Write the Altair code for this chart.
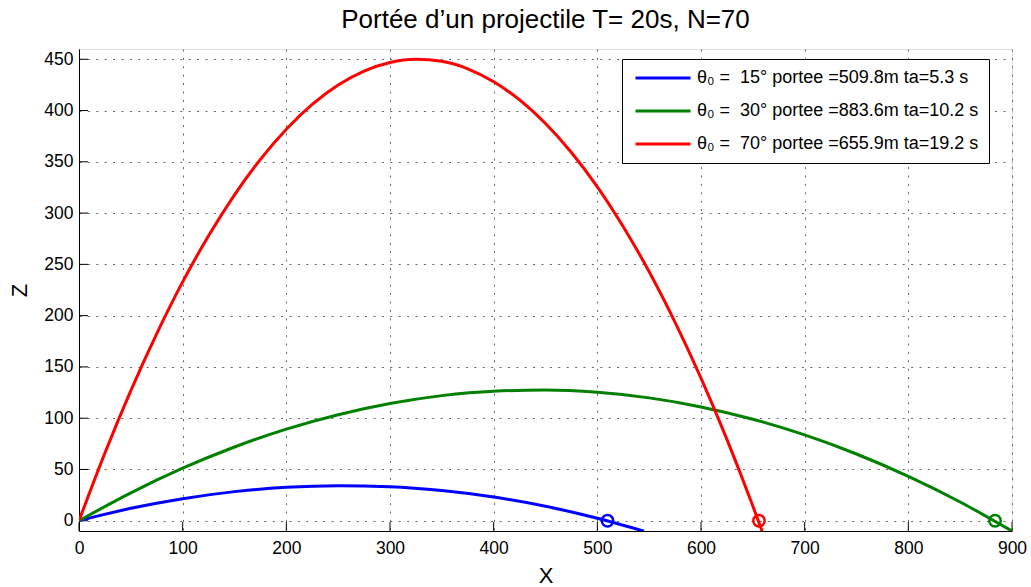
import altair as alt
import pandas as pd

# ---- data ----
labels = [
    "θ₀ =\u00a0\u00a015° portee =509.8m ta=5.3 s",
    "θ₀ =\u00a0\u00a030° portee =883.6m ta=10.2 s",
    "θ₀ =\u00a0\u00a070° portee =655.9m ta=19.2 s",
]
colors = ["#0000ff", "#008000", "#ff0000"]

blue_x = [0, 50, 100, 150, 200, 250, 300, 350, 400, 450, 500, 545]
blue_z = [0, 12.1, 21.5, 28.4, 32.6, 34.1, 33.1, 29.4, 23.1, 14.1, 2.5, -10.1]

green_x = [0, 50, 100, 150, 200, 250, 300, 350, 400, 450, 500, 550, 600, 650, 700, 750, 800, 850, 900]
green_z = [0, 27.2, 51.2, 71.9, 89.3, 103.4, 114.3, 122.0, 126.3, 127.4, 125.2, 119.8, 111.0, 99.0,
           83.7, 65.1, 43.3, 18.3, -10.1]

red_x = [0, 25, 50, 75, 100, 125, 150, 175, 200, 250, 275, 300, 325, 350, 375, 400, 425, 450,
         475, 500, 525, 550, 575, 600, 625, 650, 659]
red_z = [0, 66.1, 126.9, 182.5, 232.9, 277.9, 317.8, 352.4, 381.8, 424.8, 438.5, 446.9, 450.0,
         448.0, 440.7, 428.1, 410.4, 387.3, 359.1, 325.6, 286.7, 242.8, 193.5, 139.1, 79.4, 14.4, -10.3]

portee_x = [509.8, 883.6, 655.9]
portee_z = [0, 0, 0]

x_ticks = [0, 100, 200, 300, 400, 500, 600, 700, 800, 900]
z_ticks = [0, 50, 100, 150, 200, 250, 300, 350, 400, 450]

title = "Portée d’un projectile T= 20s, N=70"

# ---- tables ----
rows = []
for lab, xs, zs in zip(labels, [blue_x, green_x, red_x], [blue_z, green_z, red_z]):
    for i, (a, b) in enumerate(zip(xs, zs)):
        rows.append({"x": a, "z": b, "serie": lab, "i": i})
lines_df = pd.DataFrame(rows)
pts_df = pd.DataFrame({"x": portee_x, "z": portee_z, "serie": labels})
xt_df = pd.DataFrame({"x": x_ticks})
zt_df = pd.DataFrame({"z": z_ticks})

W, H = 933, 482
FONT = "Liberation Sans"
xscale = alt.Scale(domain=[0, 900], nice=False, zero=False)
zscale = alt.Scale(domain=[-10, 460], nice=False, zero=False)

grid_dash = [2, 6.4]

x_axis = alt.Axis(values=x_ticks, title="X", grid=True, gridDash=grid_dash, gridColor="#666",
                  gridWidth=1, ticks=False, domainColor="black", domainWidth=1,
                  labelFontSize=17.5, labelFont=FONT, labelColor="black", labelPadding=8,
                  titleFontSize=22, titleFont=FONT, titleFontWeight="normal", titleColor="black",
                  titleY=51, titleBaseline="alphabetic", labelFlush=False)
z_axis = alt.Axis(values=z_ticks, title="Z", grid=True, gridDash=grid_dash, gridColor="#666",
                  gridWidth=1, ticks=False, domainColor="black", domainWidth=1,
                  labelFontSize=17.5, labelFont=FONT, labelColor="black", labelPadding=6,
                  titleFontSize=22, titleFont=FONT, titleFontWeight="normal", titleColor="black",
                  titleX=-60, titleY=H / 2, titleBaseline="middle", titleAngle=270,
                  labelFlush=False)

legend = alt.Legend(title=None, orient="none", legendX=543, legendY=10,
                    symbolType="M-1,0H9", symbolSize=121, symbolStrokeWidth=3,
                    labelFontSize=18, labelFont=FONT, labelColor="black", labelOffset=47,
                    labelLimit=0, rowPadding=15, padding=10, strokeColor="black",
                    fillColor="white", cornerRadius=0)

lines = alt.Chart(lines_df).mark_line(strokeWidth=3, interpolate="monotone", clip=True).encode(
    x=alt.X("x:Q", scale=xscale, axis=x_axis),
    y=alt.Y("z:Q", scale=zscale, axis=z_axis),
    color=alt.Color("serie:N", scale=alt.Scale(domain=labels, range=colors), legend=legend),
    order="i:Q",
)

points = alt.Chart(pts_df).mark_point(shape="circle", filled=False, size=130, strokeWidth=2.5,
                                      opacity=1).encode(
    x=alt.X("x:Q", scale=xscale),
    y=alt.Y("z:Q", scale=zscale),
    stroke=alt.Stroke("serie:N", scale=alt.Scale(domain=labels, range=colors), legend=None),
)

xticks = alt.Chart(xt_df).mark_rule(color="black", strokeWidth=1).encode(
    x=alt.X("x:Q", scale=xscale),
    y=alt.value(H - 9),
    y2=alt.value(H),
)
zticks = alt.Chart(zt_df).mark_rule(color="black", strokeWidth=1).encode(
    y=alt.Y("z:Q", scale=zscale),
    x=alt.value(0),
    x2=alt.value(9),
)

chart = alt.layer(xticks, zticks, lines, points).properties(
    width=W, height=H,
    title=alt.TitleParams(title, fontSize=26, font=FONT, fontWeight="normal", color="black",
                          anchor="middle", baseline="alphabetic", frame="group", offset=19,
                          dy=24),
    autosize=alt.AutoSizeParams(type="none"),
    padding={"left": 79, "top": 49, "right": 19, "bottom": 56},
).configure_view(stroke=None).configure(background="white")

chart.save("out.html", embed_options={"renderer": "svg", "actions": False})
